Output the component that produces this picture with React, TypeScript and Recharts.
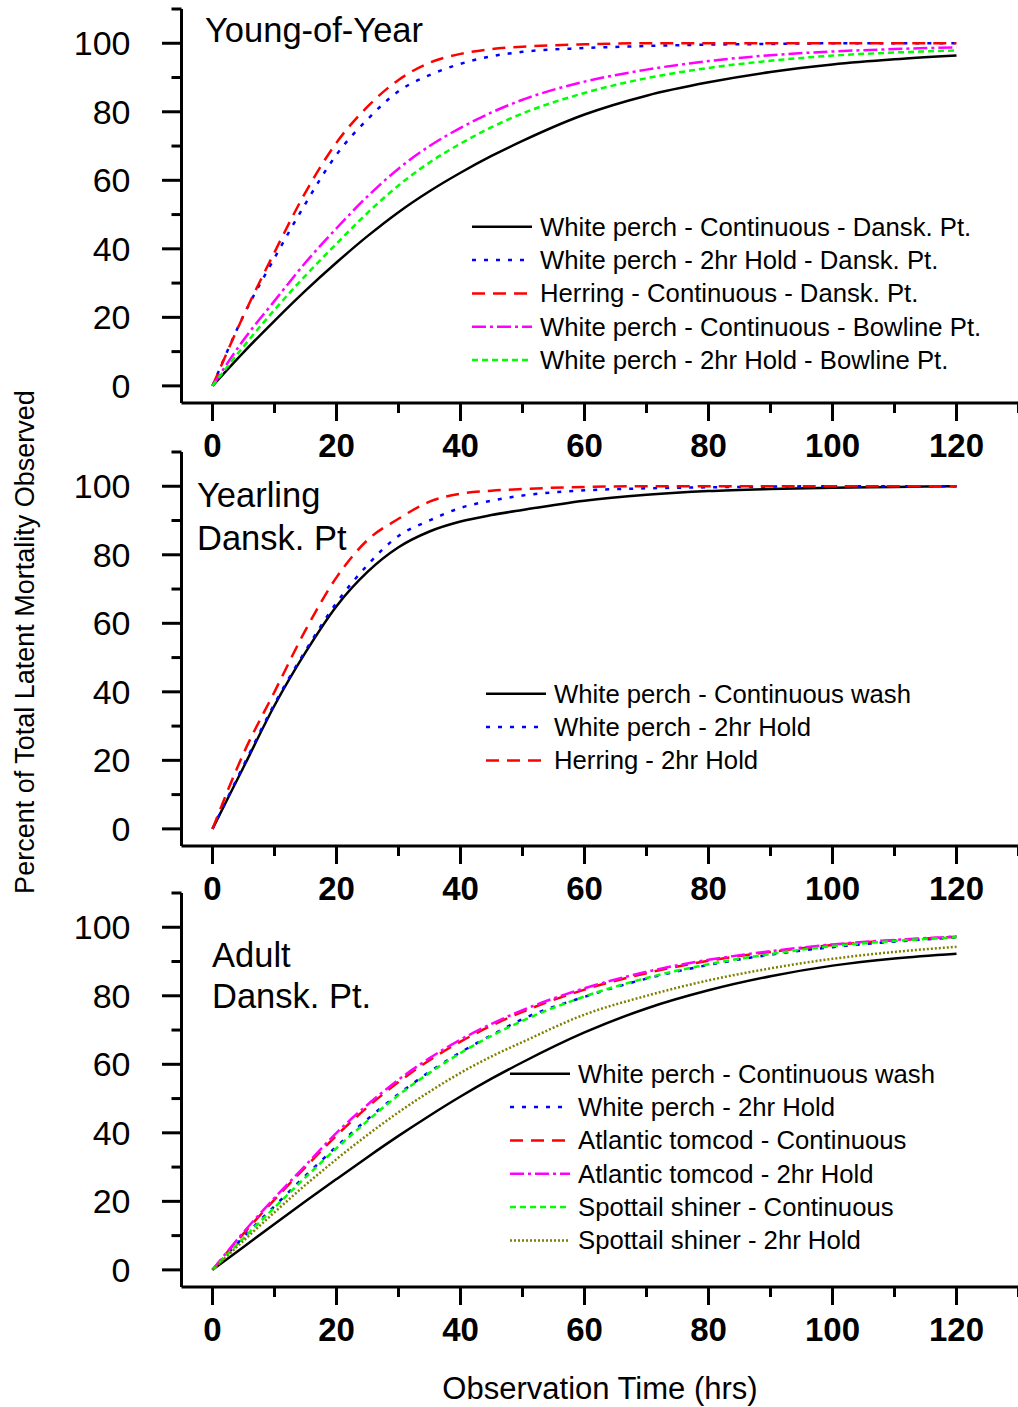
import React from 'react';
import { LineChart, Line, XAxis, YAxis, Legend } from 'recharts';

const FONT = '"Liberation Sans", Arial, Helvetica, sans-serif';

// Observation time (hrs)
const hours = [0, 5, 10, 15, 20, 25, 30, 35, 40, 45, 50, 60, 70, 80, 90, 100, 110, 120];

// Young-of-Year
const yoyWpContDansk = [0, 9.8, 19, 27.8, 36, 43.7, 50.7, 56.8, 62.2, 67.1, 71.5, 79.2, 84.7, 88.6, 91.6, 93.8, 95.3, 96.4];
const yoyWpHoldDansk = [0, 20.5, 37.3, 53.2, 67.5, 77.8, 86, 90.7, 94, 96.2, 97.5, 98.6, 99.2, 99.6, 99.8, 100, 100, 100];
const yoyHerContDansk = [0, 20.5, 39, 56.5, 71, 81.5, 89.3, 94.3, 96.9, 98.3, 99, 99.7, 100, 100, 100, 100, 100, 100];
const yoyWpContBowline = [0, 13.4, 24.8, 36, 46, 55.3, 63.4, 70, 75.3, 79.8, 83.5, 88.8, 92.3, 94.8, 96.5, 97.6, 98.3, 98.8];
const yoyWpHoldBowline = [0, 11.5, 22.2, 32.2, 41.5, 50.5, 58.5, 65.2, 70.7, 75.5, 79.5, 85.5, 89.8, 92.8, 94.9, 96.4, 97.3, 97.9];

// Yearling Dansk. Pt
const yrlWpCont = [0, 18, 36, 51.5, 65, 75, 82.2, 86.8, 89.7, 91.6, 93.1, 95.8, 97.5, 98.6, 99.2, 99.6, 99.8, 100];
const yrlWpHold = [0, 18.5, 36.5, 52, 66, 77, 85.5, 90, 93.7, 95.8, 97.3, 98.8, 99.4, 99.7, 99.9, 100, 100, 100];
const yrlHerHold = [0, 22, 40, 58, 73.4, 84.3, 90.5, 95.5, 97.8, 98.7, 99.2, 99.8, 100, 100, 100, 100, 100, 100];

// Adult Dansk. Pt.
const adWpCont = [0, 6.7, 13.4, 20, 26.5, 32.9, 39.1, 45, 50.6, 55.8, 60.6, 69.3, 76.3, 81.6, 85.7, 88.8, 90.9, 92.3];
const adWpHold = [0, 9.6, 18.6, 27.5, 36, 44, 51.3, 57.8, 63.5, 68.5, 73.2, 79.7, 85, 89, 92, 94.2, 95.8, 97];
const adTomCont = [0, 10.6, 20.5, 30, 39.2, 47.5, 54.8, 61.2, 66.6, 71.3, 75.3, 81.8, 86.6, 90.2, 92.8, 94.8, 96.2, 97.2];
const adTomHold = [0, 11, 21, 30.5, 40, 48.2, 55.5, 61.8, 67.2, 71.8, 75.8, 82.2, 87, 90.5, 93, 95, 96.3, 97.3];
const adSpotCont = [0, 9.3, 18.2, 27, 35.5, 43.5, 51, 57.5, 63.3, 68.3, 72.7, 79.8, 85.2, 89.2, 92.2, 94.5, 96, 97.1];
const adSpotHold = [0, 8.5, 16.8, 24.8, 32.3, 39.4, 46, 52, 57.5, 62.3, 66.5, 74.5, 80, 84.5, 88, 90.8, 92.8, 94.3];

const xTicks = [0, 10, 20, 30, 40, 50, 60, 70, 80, 90, 100, 110, 120, 130];
const yTicks = [0, 10, 20, 30, 40, 50, 60, 70, 80, 90, 100, 110];
const xDomain = [-5, 130];
const yDomain = [-5, 110];

type S = { key: string; name: string; color: string; dash?: string; values: number[] };

const DOT = '4 8';
const DASH = '13 8';
const DASHDOT = '14 4 3 4';
const SHORTDASH = '6 4';
const FINEDOT = '2 2';

const panel1: S[] = [
  { key: 'a', name: 'White perch - Continuous - Dansk. Pt.', color: '#000000', values: yoyWpContDansk },
  { key: 'b', name: 'White perch - 2hr Hold - Dansk. Pt.', color: '#0000FF', dash: DOT, values: yoyWpHoldDansk },
  { key: 'c', name: 'Herring - Continuous - Dansk. Pt.', color: '#FF0000', dash: DASH, values: yoyHerContDansk },
  { key: 'd', name: 'White perch - Continuous - Bowline Pt.', color: '#FF00FF', dash: DASHDOT, values: yoyWpContBowline },
  { key: 'e', name: 'White perch - 2hr Hold - Bowline Pt.', color: '#00FF00', dash: SHORTDASH, values: yoyWpHoldBowline },
];
const panel2: S[] = [
  { key: 'a', name: 'White perch - Continuous wash', color: '#000000', values: yrlWpCont },
  { key: 'b', name: 'White perch - 2hr Hold', color: '#0000FF', dash: DOT, values: yrlWpHold },
  { key: 'c', name: 'Herring - 2hr Hold', color: '#FF0000', dash: DASH, values: yrlHerHold },
];
const panel3: S[] = [
  { key: 'a', name: 'White perch - Continuous wash', color: '#000000', values: adWpCont },
  { key: 'b', name: 'White perch - 2hr Hold', color: '#0000FF', dash: DOT, values: adWpHold },
  { key: 'c', name: 'Atlantic tomcod - Continuous', color: '#FF0000', dash: DASH, values: adTomCont },
  { key: 'd', name: 'Atlantic tomcod - 2hr Hold', color: '#FF00FF', dash: DASHDOT, values: adTomHold },
  { key: 'e', name: 'Spottail shiner - Continuous', color: '#00FF00', dash: SHORTDASH, values: adSpotCont },
  { key: 'f', name: 'Spottail shiner - 2hr Hold', color: '#808000', dash: FINEDOT, values: adSpotHold },
];

const YTick = (props: any) => {
  const { x, y, payload } = props;
  const major = payload.value % 20 === 0;
  return (
    <g>
      <line x1={x - (major ? 19.5 : 10)} x2={x} y1={y} y2={y} stroke="#000" strokeWidth={3} />
      {major && (
        <text x={x - 51} y={y} textAnchor="end" dominantBaseline="central" fontSize={34} fontFamily={FONT} fill="#000">
          {payload.value}
        </text>
      )}
    </g>
  );
};

const XTick = (props: any) => {
  const { x, y, payload } = props;
  const major = payload.value % 20 === 0 && payload.value <= 120;
  return (
    <g>
      <line x1={x} x2={x} y1={y} y2={y + (major ? 18 : 10)} stroke="#000" strokeWidth={3} />
      {major && (
        <text x={x} y={y + 54} textAnchor="middle" fontSize={33} fontWeight="bold" fontFamily={FONT} fill="#000">
          {payload.value}
        </text>
      )}
    </g>
  );
};

const makeLegend = (series: S[]) => () => (
  <svg width={560} height={series.length * 33.4 + 4} style={{ display: 'block', overflow: 'visible' }}>
    {series.map((s, i) => {
      const cy = 16.7 + i * 33.35;
      return (
        <g key={s.key}>
          <line x1={2} x2={62} y1={cy} y2={cy} stroke={s.color} strokeWidth={2.5} strokeDasharray={s.dash} />
          <text x={70} y={cy} dominantBaseline="central" fontSize={25.7} fontFamily={FONT} fill="#000">
            {s.name}
          </text>
        </g>
      );
    })}
  </svg>
);

const Panel = ({ series, top, legendLeft, legendTop }: { series: S[]; top: number; legendLeft: number; legendTop: number }) => {
  const data = hours.map((h, i) => {
    const row: any = { h };
    series.forEach((s) => (row[s.key] = s.values[i]));
    return row;
  });
  return (
    <div style={{ position: 'absolute', left: 0, top }}>
      <LineChart width={1020} height={463} data={data} margin={{ top: 9, right: 1.5, left: 0, bottom: 0 }}>
        <XAxis
          dataKey="h"
          type="number"
          domain={xDomain}
          ticks={xTicks}
          interval={0}
          allowDataOverflow
          height={60}
          tickSize={0}
          tickMargin={0}
          tickLine={false}
          tick={<XTick />}
          axisLine={{ stroke: '#000', strokeWidth: 3 }}
        />
        <YAxis
          type="number"
          domain={yDomain}
          ticks={yTicks}
          interval={0}
          allowDataOverflow
          width={181.5}
          tickSize={0}
          tickMargin={0}
          tickLine={false}
          tick={<YTick />}
          axisLine={{ stroke: '#000', strokeWidth: 3 }}
        />
        <Legend
          layout="horizontal"
          verticalAlign="middle"
          align="center"
          content={makeLegend(series)}
          wrapperStyle={{ left: legendLeft, top: legendTop - top, width: 560 }}
        />
        {series.map((s) => (
          <Line
            key={s.key}
            type="monotone"
            dataKey={s.key}
            name={s.name}
            stroke={s.color}
            strokeWidth={2.5}
            strokeDasharray={s.dash}
            dot={false}
            activeDot={false}
            isAnimationActive={false}
          />
        ))}
      </LineChart>
    </div>
  );
};

export default function App() {
  return (
    <div style={{ position: 'absolute', left: 0, top: 0, width: 1018, height: 1407, overflow: 'hidden', background: '#fff', fontFamily: FONT }}>
      <svg width={1018} height={1407} style={{ position: 'absolute', left: 0, top: 0 }}>
        <text x={205} y={42} fontSize={34.5} fontFamily={FONT} fill="#000">Young-of-Year</text>
        <text x={197} y={507} fontSize={34.5} fontFamily={FONT} fill="#000">Yearling</text>
        <text x={197} y={550} fontSize={34.5} fontFamily={FONT} fill="#000">Dansk. Pt</text>
        <text x={212} y={967} fontSize={34.5} fontFamily={FONT} fill="#000">Adult</text>
        <text x={212} y={1008} fontSize={34.5} fontFamily={FONT} fill="#000">Dansk. Pt.</text>
        <text x={600} y={1399} textAnchor="middle" fontSize={31} fontFamily={FONT} fill="#000">Observation Time (hrs)</text>
        <text
          x={0}
          y={0}
          transform="translate(25 642) rotate(-90)"
          textAnchor="middle"
          dominantBaseline="central"
          fontSize={27}
          fontFamily={FONT}
          fill="#000"
        >
          Percent of Total Latent Mortality Observed
        </text>
      </svg>
      <Panel series={panel1} top={0} legendLeft={470} legendTop={210} />
      <Panel series={panel2} top={442.8} legendLeft={484} legendTop={677} />
      <Panel series={panel3} top={884} legendLeft={508} legendTop={1057} />
    </div>
  );
}
